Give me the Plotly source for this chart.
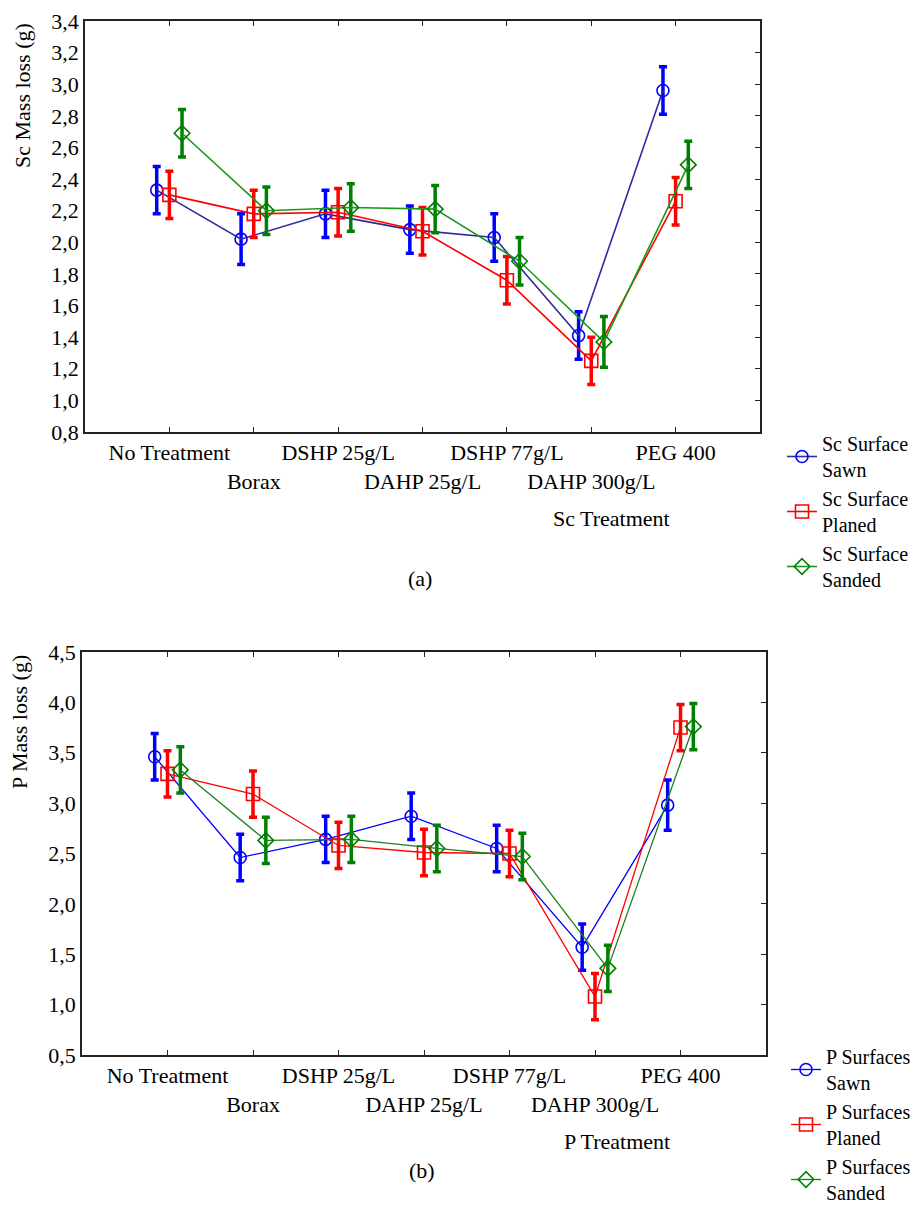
import plotly.graph_objects as go

# ---------------- data ----------------
categories = ["No Treatment", "Borax", "DSHP 25g/L", "DAHP 25g/L",
              "DSHP 77g/L", "DAHP 300g/L", "PEG 400"]

sc_sawn = [2.33, 2.02, 2.18, 2.08, 2.03, 1.41, 2.96]
sc_sawn_err = [0.15, 0.16, 0.15, 0.15, 0.15, 0.15, 0.15]
sc_planed = [2.30, 2.18, 2.19, 2.07, 1.76, 1.25, 2.26]
sc_planed_err = [0.15, 0.15, 0.15, 0.15, 0.15, 0.15, 0.15]
sc_sanded = [2.69, 2.20, 2.22, 2.21, 1.88, 1.37, 2.49]
sc_sanded_err = [0.15, 0.15, 0.15, 0.15, 0.15, 0.16, 0.15]

p_sawn = [3.46, 2.46, 2.64, 2.87, 2.55, 1.57, 2.98]
p_sawn_err = [0.23, 0.23, 0.23, 0.23, 0.23, 0.23, 0.25]
p_planed = [3.29, 3.09, 2.58, 2.51, 2.50, 1.08, 3.75]
p_planed_err = [0.23, 0.23, 0.23, 0.23, 0.23, 0.23, 0.23]
p_sanded = [3.33, 2.63, 2.64, 2.55, 2.47, 1.36, 3.76]
p_sanded_err = [0.23, 0.23, 0.23, 0.23, 0.23, 0.23, 0.23]

sc_names = ["Sc Surface<br>Sawn", "Sc Surface<br>Planed", "Sc Surface<br>Sanded"]
p_names = ["P Surfaces<br>Sawn", "P Surfaces<br>Planed", "P Surfaces<br>Sanded"]

sc_yticks = [0.8, 1.0, 1.2, 1.4, 1.6, 1.8, 2.0, 2.2, 2.4, 2.6, 2.8, 3.0, 3.2, 3.4]
p_yticks = [0.5, 1.0, 1.5, 2.0, 2.5, 3.0, 3.5, 4.0, 4.5]

# ---------------- style ----------------
W, H = 923, 1212
FONT = "Liberation Serif"
FS = 22
LFS = 20
offsets = [-0.15, 0.0, 0.15]
err_colors = ["#0000ff", "#ff0000", "#008000"]
line_colors_top = ["#2b2b9e", "#ff0000", "#1a9a1a"]
line_colors_bot = ["#0000ff", "#ff0000", "#1a7f1a"]
symbols = ["circle-open", "square-open", "diamond-open"]
msizes = [12, 13, 12]


def px_x(x):
    return x / W


def px_y(y):
    return 1 - y / H


# staggered tick labels (odd categories on a second row)
tick_text = [c if i % 2 == 0 else "<br>" + c for i, c in enumerate(categories)]
xs = list(range(len(categories)))

fig = go.Figure()

top_series = [(sc_sawn, sc_sawn_err), (sc_planed, sc_planed_err), (sc_sanded, sc_sanded_err)]
bot_series = [(p_sawn, p_sawn_err), (p_planed, p_planed_err), (p_sanded, p_sanded_err)]

for k, (vals, errs) in enumerate(top_series):
    fig.add_trace(go.Scatter(
        x=[v + offsets[k] for v in xs], y=vals, name=sc_names[k],
        mode="lines+markers", xaxis="x", yaxis="y", legend="legend",
        line=dict(color=line_colors_top[k], width=1.6),
        marker=dict(symbol=symbols[k], size=msizes[k], color=err_colors[k],
                    line=dict(width=1.6, color=err_colors[k])),
        error_y=dict(type="data", array=errs, visible=True, color=err_colors[k],
                     thickness=3.5, width=4),
    ))

for k, (vals, errs) in enumerate(bot_series):
    fig.add_trace(go.Scatter(
        x=[v + offsets[k] for v in xs], y=vals, name=p_names[k],
        mode="lines+markers", xaxis="x2", yaxis="y2", legend="legend2",
        line=dict(color=line_colors_bot[k], width=1.3),
        marker=dict(symbol=symbols[k], size=msizes[k], color=err_colors[k],
                    line=dict(width=1.6, color=err_colors[k])),
        error_y=dict(type="data", array=errs, visible=True, color=err_colors[k],
                     thickness=3.5, width=4),
    ))

frame = dict(showline=True, linecolor="#222222", linewidth=1.5,
             showgrid=False, zeroline=False, automargin=False)
tickfont = dict(family=FONT, size=FS, color="black")

xaxis_common = dict(mirror="ticks", ticks="inside", ticklen=5, tickcolor="#222222",
                    tickwidth=1, tickangle=0, tickfont=tickfont, **frame)
# left y axis: labels only (no tick marks), frame mirrored
yaxis_common = dict(mirror=True, ticks="", tickfont=tickfont, **frame)
# right-side companion axis carrying only the inside tick marks
yright_common = dict(side="right", ticks="inside", ticklen=5, tickcolor="#222222",
                     tickwidth=1, showticklabels=False, showline=False,
                     showgrid=False, zeroline=False, automargin=False)

fig.update_layout(
    width=W, height=H,
    margin=dict(l=0, r=0, t=0, b=0),
    paper_bgcolor="white", plot_bgcolor="white",
    separators=", ",
    font=dict(family=FONT, size=FS, color="black"),
    xaxis=dict(domain=[px_x(85), px_x(760)], anchor="y", range=[-1, 7],
               tickvals=xs, ticktext=tick_text, **xaxis_common),
    yaxis=dict(domain=[px_y(432), px_y(21)], anchor="x", range=[0.8, 3.4],
               tickvals=sc_yticks, tickformat=".1f", **yaxis_common),
    yaxis3=dict(overlaying="y", anchor="x", range=[0.8, 3.4],
                tickvals=sc_yticks, **yright_common),
    xaxis2=dict(domain=[px_x(82), px_x(766)], anchor="y2", range=[-1, 7],
                tickvals=xs, ticktext=tick_text, **xaxis_common),
    yaxis2=dict(domain=[px_y(1055), px_y(652)], anchor="x2", range=[0.5, 4.5],
                tickvals=p_yticks, tickformat=".1f", **yaxis_common),
    yaxis4=dict(overlaying="y2", anchor="x2", range=[0.5, 4.5],
                tickvals=p_yticks, **yright_common),
    legend=dict(x=px_x(782), y=px_y(424), xanchor="left", yanchor="top",
                bgcolor="rgba(0,0,0,0)", font=dict(family=FONT, size=LFS),
                itemwidth=30, tracegroupgap=0),
    legend2=dict(x=px_x(786), y=0, xanchor="left", yanchor="bottom",
                 bgcolor="rgba(0,0,0,0)", font=dict(family=FONT, size=LFS),
                 itemwidth=30, tracegroupgap=0),
    showlegend=True,
)

# invisible helper traces so the right-side tick axes are drawn
fig.add_trace(go.Scatter(x=[None], y=[None], xaxis="x", yaxis="y3",
                         showlegend=False, hoverinfo="skip"))
fig.add_trace(go.Scatter(x=[None], y=[None], xaxis="x2", yaxis="y4",
                         showlegend=False, hoverinfo="skip"))

annotations = [
    dict(text="Sc Mass loss (g)", x=px_x(23), y=px_y(96), textangle=-90),
    dict(text="P Mass loss (g)", x=px_x(19), y=px_y(722), textangle=-90),
    dict(text="Sc Treatment", x=px_x(611), y=px_y(518)),
    dict(text="P Treatment", x=px_x(617), y=px_y(1141)),
    dict(text="(a)", x=px_x(420), y=px_y(578)),
    dict(text="(b)", x=px_x(422), y=px_y(1170)),
]
for a in annotations:
    fig.add_annotation(xref="paper", yref="paper", showarrow=False,
                       xanchor="center", yanchor="middle",
                       font=dict(family=FONT, size=FS, color="black"), **a)

fig.write_html("out.html")
